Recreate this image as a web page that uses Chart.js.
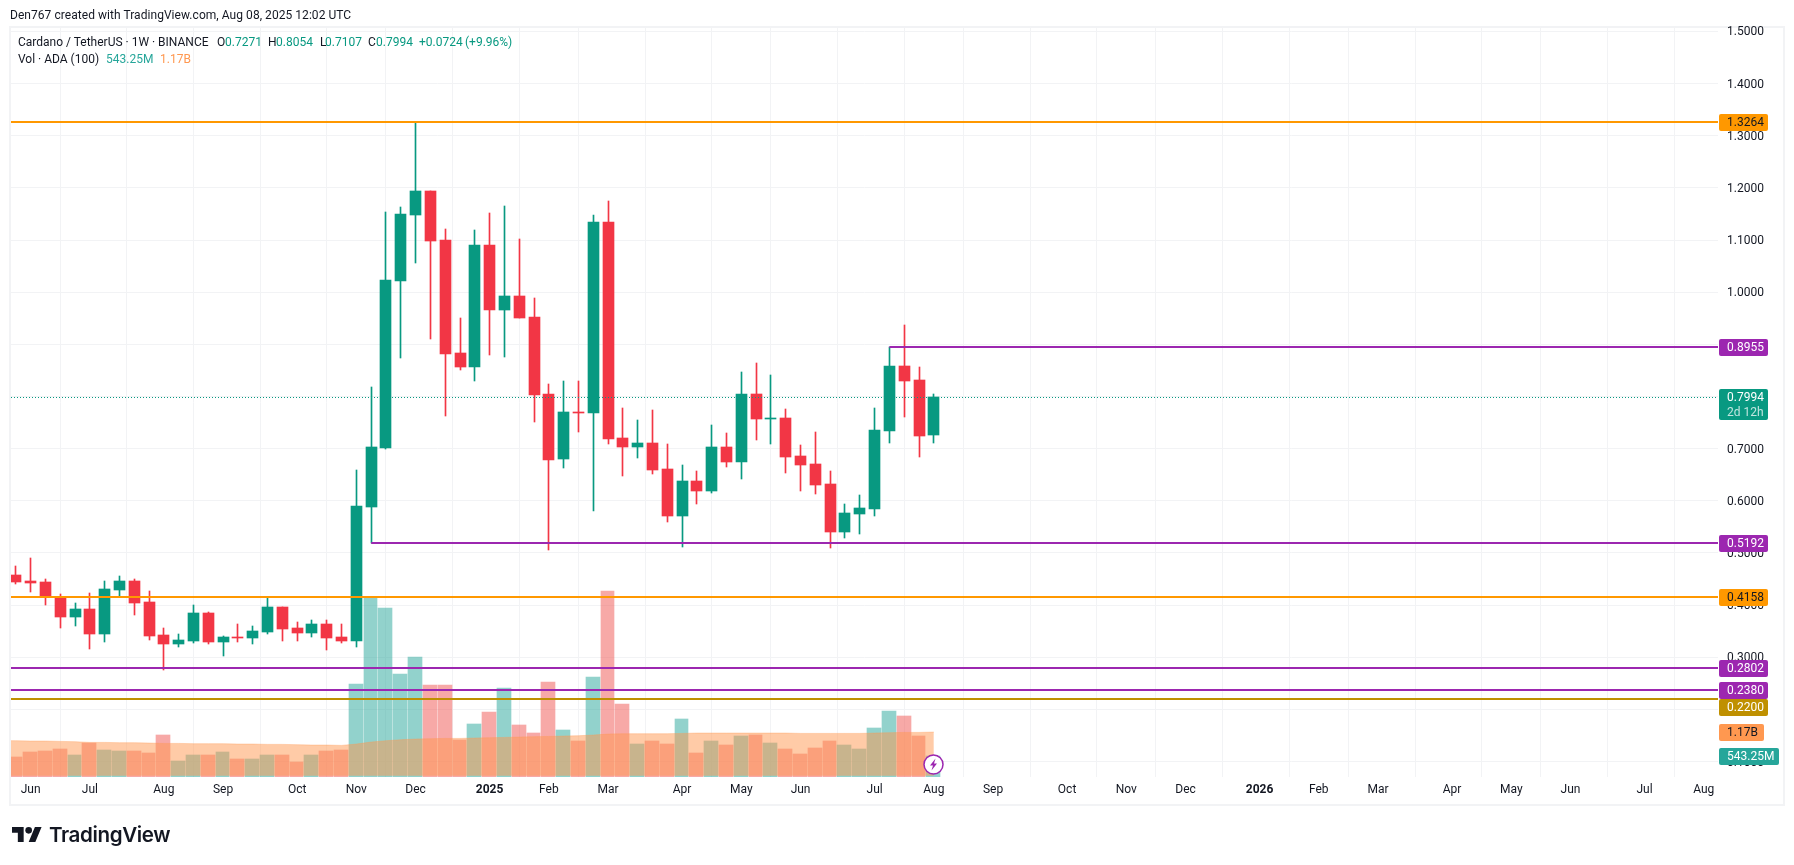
<!DOCTYPE html>
<html>
<head>
<meta charset="utf-8">
<title>Cardano / TetherUS</title>
<script src="https://cdn.jsdelivr.net/npm/chart.js@4"></script>
<style>
    html, body { margin: 0; padding: 0; background: #fff; width: 1794px; height: 865px; overflow: hidden; }
    canvas { position: absolute; left: 0; top: 0; }
    .txt { position: absolute; font: 12px Roboto, sans-serif; color: #131722; white-space: nowrap; line-height: 14px; }
    .up { color: #089981; }
    .ma { color: #FF9850; }
    .vol { color: #26A69A; }
    #logoText { position: absolute; left: 49px; top: 821px; font: 600 20.6px Inter, sans-serif; letter-spacing: -0.4px; color: #131722; line-height: 28px; }
    #logo { position: absolute; left: 12px; top: 827px; }
</style>
</head>
<body>
<canvas id="mycanvas" width="1794" height="865"></canvas>

<div class="txt" style="left:10px;top:8px;letter-spacing:0.05px">Den767 created with TradingView.com, Aug 08, 2025 12:02 UTC</div>
<div class="txt" style="left:18px;top:35px">Cardano / TetherUS · 1W · BINANCE</div>
<div class="txt" style="left:217px;top:35px">O</div><div class="txt up" style="left:225px;top:35px">0.7271</div>
<div class="txt" style="left:268px;top:35px">H</div><div class="txt up" style="left:276px;top:35px">0.8054</div>
<div class="txt" style="left:320px;top:35px">L</div><div class="txt up" style="left:325px;top:35px">0.7107</div>
<div class="txt" style="left:368px;top:35px">C</div><div class="txt up" style="left:376px;top:35px">0.7994</div>
<div class="txt up" style="left:419px;top:35px">+0.0724</div>
<div class="txt up" style="left:465px;top:35px">(+9.96%)</div>
<div class="txt" style="left:18px;top:52px">Vol · ADA (100)</div>
<div class="txt vol" style="left:106px;top:52px">543.25M</div>
<div class="txt ma" style="left:160px;top:52px">1.17B</div>

<svg id="logo" width="30" height="15" viewBox="0 4 36 18"><path fill="#131722" d="M14 22H7V11H0V4h14v18zM28 22h-8l7.5-18h8L28 22z"/><circle fill="#131722" cx="20" cy="8" r="4"/></svg>
<div id="logoText">TradingView</div>

<script>
// weekly candles, first one is the week of 27 May 2024
const opens = [0.4580,0.4462,0.4443,0.4156,0.3774,0.3927,0.3447,0.4290,0.4462,0.4061,0.3428,0.3256,0.3314,0.3851,0.3295,0.3390,0.3371,0.3487,0.3965,0.3564,0.3468,0.3640,0.3390,0.3314,0.5881,0.7012,1.0214,1.1479,1.1941,1.1001,0.8834,0.8567,1.0906,0.9660,0.9927,0.9526,0.8048,0.6802,0.7703,0.7681,1.1345,0.7203,0.7031,0.7108,0.6611,0.5709,0.6378,0.6187,0.7031,0.6744,0.8048,0.7570,0.7589,0.6859,0.6706,0.6321,0.5401,0.5747,0.5843,0.7337,0.8586,0.8315,0.7271];
const highs = [0.4752,0.4904,0.4503,0.4214,0.4042,0.4233,0.4462,0.4561,0.4503,0.4271,0.3564,0.3447,0.4003,0.3870,0.3409,0.3640,0.3602,0.4137,0.3967,0.3679,0.3717,0.3717,0.3640,0.6591,0.8181,1.1539,1.1635,1.3264,1.1941,1.1214,0.9507,1.1192,1.1520,1.1654,1.1020,0.9889,0.8239,0.8296,0.8296,1.1479,1.1750,0.7780,0.7550,0.7742,0.7089,0.6687,0.6569,0.7452,0.7299,0.8468,0.8643,0.8411,0.7761,0.7070,0.7318,0.6569,0.5938,0.6111,0.7780,0.8949,0.9370,0.8567,0.8054];
const lows = [0.4405,0.4252,0.4003,0.3564,0.3602,0.3161,0.3295,0.4175,0.3812,0.3333,0.2759,0.3199,0.3275,0.3256,0.3027,0.3295,0.3256,0.3447,0.3314,0.3314,0.3390,0.3141,0.3275,0.3199,0.5184,0.6993,0.8736,1.0561,0.9102,0.7627,0.8509,0.8296,0.8796,0.8755,0.9507,0.7512,0.5057,0.6630,0.7318,0.5805,0.7089,0.6477,0.6821,0.6515,0.5594,0.5114,0.5938,0.6149,0.6649,0.6416,0.7165,0.7089,0.6534,0.6187,0.6130,0.5095,0.5286,0.5363,0.5709,0.7108,0.7608,0.6840,0.7107];
const closes = [0.4443,0.4424,0.4156,0.3774,0.3927,0.3447,0.4309,0.4462,0.4042,0.3409,0.3256,0.3333,0.3851,0.3295,0.3390,0.3377,0.3506,0.3965,0.3545,0.3468,0.3640,0.3371,0.3314,0.5900,0.7031,1.0233,1.1501,1.1941,1.0982,0.8815,0.8567,1.0906,0.9660,0.9927,0.9507,0.8029,0.6783,0.7703,0.7681,1.1345,0.7184,0.7031,0.7108,0.6591,0.5709,0.6378,0.6187,0.7031,0.6744,0.8048,0.7570,0.7589,0.6840,0.6687,0.6302,0.5401,0.5766,0.5862,0.7356,0.8586,0.8296,0.7242,0.7994];

// volume and its 100 week average, in millions
const volumes = [511,641,667,719,563,875,693,667,667,615,1083,407,563,563,641,459,459,563,563,381,563,667,693,2409,4663,4411,2669,3137,2383,2383,953,1369,1681,2305,1343,1135,2461,1213,927,2591,4853,1889,849,927,849,1499,615,927,823,1057,1083,875,719,589,745,927,823,719,1265,1707,1577,1057,543.25];
const volumeMa = [945,936,936,927,919,901,901,893,893,884,875,875,867,867,867,858,858,849,849,841,832,832,823,858,910,945,971,988,997,1005,1005,1014,1023,1031,1040,1049,1057,1066,1075,1092,1118,1127,1127,1127,1127,1135,1144,1144,1144,1144,1144,1144,1144,1135,1135,1135,1135,1135,1144,1153,1161,1161,1170];
const volumeMaBefore = 950; // the week left of the first candle, cut by the pane edge

// horizontal levels drawn on the chart
const levelValues = [1.3264, 0.8955, 0.5192, 0.4158, 0.2802, 0.2380, 0.2200];
const levelStarts = [-1, 59, 24, -1, -1, -1, -1];
const levelColors = ['#FF9800', '#9C27B0', '#9C27B0', '#FF9800', '#9C27B0', '#9C27B0', '#BF9000'];
const levelTextColors = ['#131722', '#fff', '#fff', '#131722', '#fff', '#fff', '#fff'];
const levelLabelShift = [0, 0, 0, 0, 0, 0, 8];
const lastPrice = 0.7994;
const lastPriceCountdown = '2d 12h';

const priceTicks = [1.5, 1.4, 1.3, 1.2, 1.1, 1.0, 0.9, 0.8, 0.7, 0.6, 0.5, 0.4, 0.3, 0.2, 0.1];
const monthTicks = [1, 5, 10, 14, 19, 23, 27, 32, 36, 40, 45, 49, 53, 58, 62, 66, 71, 75, 79, 84, 88, 92, 97, 101, 105, 110, 114];
const monthLabels = ['Jun', 'Jul', 'Aug', 'Sep', 'Oct', 'Nov', 'Dec', '2025', 'Feb', 'Mar', 'Apr', 'May', 'Jun', 'Jul', 'Aug', 'Sep', 'Oct', 'Nov', 'Dec', '2026', 'Feb', 'Mar', 'Apr', 'May', 'Jun', 'Jul', 'Aug'];

const green = '#089981';
const red = '#F23645';
const gridColor = '#F2F3F5';
const xMin = -0.324;
const xMax = 114.96;
const labelFont = '12px Roboto, sans-serif';

var upBar = closes.map(function (c, i) { return c >= opens[i]; });
var candleColors = upBar.map(function (u) { return u ? green : red; });
var volumeColors = upBar.map(function (u) { return u ? 'rgba(38,166,154,0.5)' : 'rgba(239,83,80,0.5)'; });

var datasets = [
    {
        label: 'Volume', yAxisID: 'vol', order: 10, grouped: false, barThickness: 14,
        data: volumes.map(function (v, i) { return { x: i, y: v }; }),
        backgroundColor: volumeColors
    },
    {
        type: 'line', label: 'Volume MA', yAxisID: 'vol', order: 9,
        data: [{ x: -1, y: volumeMaBefore }].concat(volumeMa.map(function (v, i) { return { x: i, y: v }; })),
        borderColor: 'rgba(255,152,80,0.35)', borderWidth: 1, pointRadius: 0,
        backgroundColor: 'rgba(255,152,80,0.5)', fill: { value: 30 }, tension: 0
    },
    {
        label: 'Wick', order: 5, grouped: false, barThickness: 1,
        data: lows.map(function (l, i) { return { x: i, y: [l, highs[i]] }; }),
        backgroundColor: candleColors
    },
    {
        label: 'Body', order: 4, grouped: false, barThickness: 11,
        data: opens.map(function (o, i) { return { x: i, y: [o, closes[i]] }; }),
        backgroundColor: candleColors
    },
    {
        type: 'line', label: 'Last price', order: 3,
        data: [{ x: xMin, y: lastPrice }, { x: xMax, y: lastPrice }],
        borderColor: green, borderWidth: 1, borderDash: [1, 2], pointRadius: 0
    }
];
for (var n in levelValues) {
    datasets.push({
        type: 'line', label: 'Level ' + levelValues[n], order: 1,
        data: [{ x: levelStarts[n] < 0 ? xMin : levelStarts[n], y: levelValues[n] }, { x: xMax, y: levelValues[n] }],
        borderColor: levelColors[n], borderWidth: 2, pointRadius: 0
    });
}

// pixel snap bars and levels so they stay sharp
const snapBars = {
    id: 'snapBars',
    afterDatasetsUpdate: function (chart) {
        var step = chart.scales.x.getPixelForValue(1) - chart.scales.x.getPixelForValue(0);
        chart.data.datasets.forEach(function (ds, d) {
            if (ds.label === 'Volume MA') return;
            chart.getDatasetMeta(d).data.forEach(function (el) {
                if (ds.type === 'line') {
                    el.y = ds.label === 'Last price' ? Math.round(el.y) + 0.5 : Math.round(el.y);
                    return;
                }
                if (ds.label === 'Volume') {
                    var left = Math.round(el.x - 7.5);
                    var right = Math.round(el.x + step - 7.5) - 1;
                    el.x = (left + right) / 2;
                    el.width = right - left;
                } else {
                    el.x = Math.floor(el.x) + 0.5;
                }
                el.y = Math.round(el.y);
                el.base = Math.round(el.base);
                if (ds.label === 'Body' && Math.abs(el.base - el.y) < 1) el.base = el.y + 1;
            });
        });
    }
};

function priceLabel(ctx, y, w, bg, fg, text) {
    var top = Math.round(y) - 8;
    ctx.fillStyle = bg;
    ctx.beginPath();
    ctx.roundRect(1719, top, w, 17, 2);
    ctx.fill();
    ctx.fillStyle = fg;
    ctx.textAlign = 'left';
    ctx.textBaseline = 'middle';
    ctx.font = labelFont;
    ctx.fillText(text, 1727, top + 9);
}

const overlays = {
    id: 'overlays',
    beforeDraw: function (chart) {
        var ctx = chart.ctx;
        ctx.save();
        ctx.strokeStyle = gridColor;
        ctx.lineWidth = 2;
        ctx.strokeRect(10, 27, 1774, 778);
        ctx.restore();
    },
    afterDraw: function (chart) {
        var ctx = chart.ctx;
        var y = chart.scales.y;
        var vol = chart.scales.vol;
        ctx.save();
        for (var i in levelValues) {
            priceLabel(ctx, y.getPixelForValue(levelValues[i]) + levelLabelShift[i], 49, levelColors[i], levelTextColors[i], levelValues[i].toFixed(4));
        }

        // last price with the countdown under it
        var top = Math.round(y.getPixelForValue(lastPrice)) - 8;
        ctx.fillStyle = green;
        ctx.beginPath();
        ctx.roundRect(1719, top, 49, 31, 2);
        ctx.fill();
        ctx.fillStyle = '#fff';
        ctx.textAlign = 'left';
        ctx.textBaseline = 'middle';
        ctx.font = labelFont;
        ctx.fillText(lastPrice.toFixed(4), 1727, top + 9);
        ctx.fillStyle = 'rgba(255,255,255,0.75)';
        ctx.fillText(lastPriceCountdown, 1727, top + 24);

        priceLabel(ctx, vol.getPixelForValue(volumeMa[62]), 45, '#FF9850', '#131722', '1.17B');
        priceLabel(ctx, vol.getPixelForValue(volumes[62]), 60, '#26A69A', '#fff', '543.25M');

        // lightning badge on the last bar
        var bx = Math.floor(chart.scales.x.getPixelForValue(62)) + 0.5;
        var by = 764.5;
        ctx.fillStyle = '#fff';
        ctx.strokeStyle = '#9C27B0';
        ctx.lineWidth = 1.5;
        ctx.beginPath();
        ctx.arc(bx, by, 9.5, 0, Math.PI * 2);
        ctx.fill();
        ctx.stroke();
        ctx.fillStyle = '#9C27B0';
        ctx.beginPath();
        ctx.moveTo(bx + 2, by - 6);
        ctx.lineTo(bx - 3.5, by + 1);
        ctx.lineTo(bx - 0.5, by + 1);
        ctx.lineTo(bx - 2, by + 6);
        ctx.lineTo(bx + 3.5, by - 1);
        ctx.lineTo(bx + 0.5, by - 1);
        ctx.closePath();
        ctx.fill();
        ctx.restore();
    }
};

var ctx = document.getElementById('mycanvas');
var candleChart = new Chart(ctx, {
    type: 'bar',
    data: { datasets: datasets },
    plugins: [snapBars, overlays],
    options: {
        responsive: false,
        devicePixelRatio: 1,
        animation: false,
        layout: { padding: { left: 11, top: 28, right: 11, bottom: 60 } },
        plugins: { legend: { display: false }, tooltip: { enabled: false }, title: { display: false } },
        scales: {
            x: {
                type: 'linear', offset: false, min: xMin, max: xMax,
                afterBuildTicks: function (axis) {
                    axis.ticks = monthTicks.map(function (t) { return { value: t }; });
                },
                afterFit: function (axis) {
                    axis.height = 28;
                    axis.paddingLeft = 0;
                    axis.paddingRight = 0;
                },
                grid: { color: gridColor, drawTicks: false },
                border: { display: false },
                ticks: {
                    autoSkip: false, maxRotation: 0, padding: 6, color: '#131722',
                    font: function (c) {
                        var name = monthLabels[monthTicks.indexOf(c.tick && c.tick.value)];
                        return { family: 'Roboto', size: 12, weight: (name === '2025' || name === '2026') ? 'bold' : 'normal' };
                    },
                    callback: function (v) { return monthLabels[monthTicks.indexOf(v)]; }
                }
            },
            y: {
                position: 'right', min: 0.0704, max: 1.5066,
                afterBuildTicks: function (axis) {
                    axis.ticks = priceTicks.map(function (t) { return { value: t }; });
                },
                afterFit: function (axis) { axis.width = 65; },
                grid: { color: gridColor, drawTicks: false },
                border: { display: false },
                ticks: {
                    padding: 9, labelOffset: 1, color: '#131722', font: { family: 'Roboto', size: 12 },
                    callback: function (v) { return v.toFixed(4); }
                }
            },
            vol: {
                display: false, min: 0, max: 19500
            }
        }
    }
});
</script>
</body>
</html>
